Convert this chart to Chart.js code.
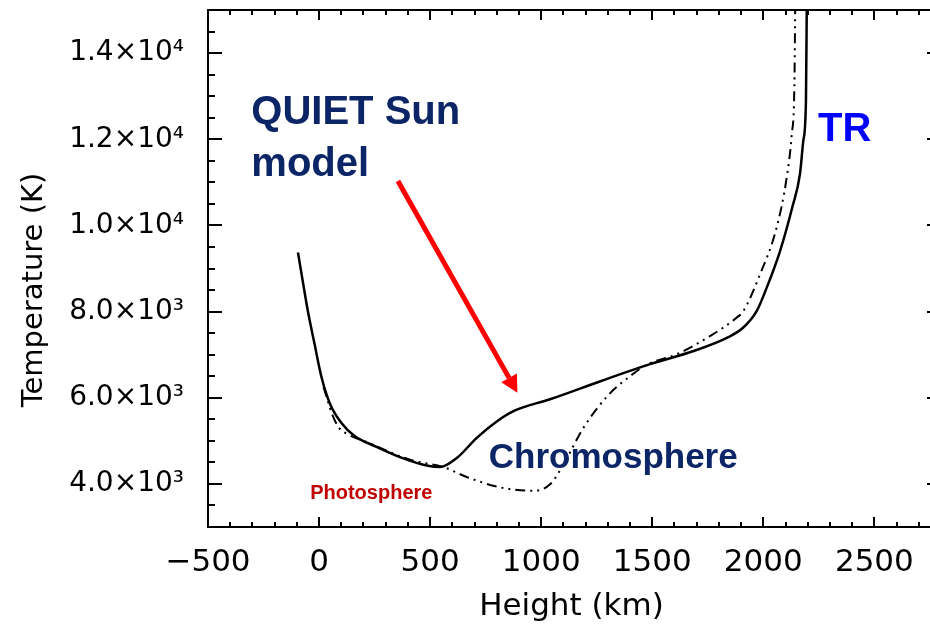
<!DOCTYPE html>
<html>
<head>
<meta charset="utf-8">
<title>Quiet Sun temperature model</title>
<script src="https://cdn.jsdelivr.net/npm/chart.js@4/dist/chart.umd.min.js"></script>
<style>
  html, body { margin: 0; padding: 0; background: #fff; width: 930px; height: 624px; overflow: hidden; }
  canvas { display: block; }
</style>
</head>
<body>
<canvas id="tempChart" width="945" height="624"></canvas>
<script>
// solid curve: quiet Sun model
const solidHeights = [-95, -70, -50, -20, 10, 50, 100, 160, 250, 370, 490, 545, 620, 710, 800, 880, 1040, 1270, 1490, 1690, 1840, 1910, 1970, 2015, 2075, 2130, 2165, 2180, 2192, 2196];
const solidTemps   = [9370, 8600, 8000, 7240, 6500, 5850, 5420, 5110, 4880, 4610, 4420, 4390, 4600, 5070, 5450, 5700, 5965, 6390, 6780, 7090, 7400, 7630, 8010, 8550, 9400, 10410, 11190, 11960, 12890, 15300];

// dash-dot-dot curve: comparison model
const dashHeights = [20, 60, 90, 130, 220, 410, 560, 670, 820, 965, 1040, 1100, 1190, 1300, 1400, 1480, 1610, 1760, 1880, 1910, 1985, 2060, 2105, 2128, 2140, 2144];
const dashTemps   = [6250, 5600, 5300, 5150, 4960, 4560, 4390, 4150, 3915, 3840, 3990, 4450, 5300, 6050, 6500, 6780, 7010, 7430, 7860, 8010, 8860, 9950, 11100, 12110, 13270, 15300];

const xTicks = [-500, 0, 500, 1000, 1500, 2000, 2500];
const yTicks = [4000, 6000, 8000, 10000, 12000, 14000];

// text labels placed in data units (left edge, baseline)
const labelTexts  = ['QUIET Sun', 'model', 'TR', 'Chromosphere', 'Photosphere'];
const labelX      = [-305, -305, 2246, 764, -40];
const labelY      = [12352, 11146, 11958, 4371, 3652];
const labelColors = ['#0b2566', '#0b2566', '#0000ff', '#0b2566', '#c00000'];
const labelSizes  = [40, 40, 40, 35, 20];

// arrow pointing at the chromospheric rise (data units)
const arrowFrom = [355, 11030];
const arrowTo = [893, 6118];

const FONT = '"DejaVu Sans", sans-serif';
const SUP = { 3: '\u00B3', 4: '\u2074' };

function fmtX(v) { return v < 0 ? '\u2212' + Math.abs(v) : String(v); }
function fmtY(v) {
    const e = Math.floor(Math.log10(v));
    return (v / Math.pow(10, e)).toFixed(1) + '\u00D710' + SUP[e];
}

// fixed box sizes, no extra room reserved for edge labels
function fixBox(s, w, h) {
    if (w !== null) s.width = w;
    if (h !== null) s.height = h;
    s.paddingTop = 0; s.paddingBottom = 0; s.paddingLeft = 0; s.paddingRight = 0;
}

// box frame with inward major/minor ticks on all four sides
const frameTicks = {
    id: 'frameTicks',
    afterDatasetsDraw(chart) {
        const { ctx, chartArea: a, scales: { x, y } } = chart;
        ctx.save();
        ctx.strokeStyle = '#000';
        ctx.lineWidth = 2;
        ctx.strokeRect(a.left, a.top, a.right - a.left, a.bottom - a.top);
        ctx.beginPath();
        for (let v = x.min; v <= x.max; v += 100) {
            const px = Math.round(x.getPixelForValue(v));
            const len = v % 500 === 0 ? 10 : 5;
            ctx.moveTo(px, a.bottom); ctx.lineTo(px, a.bottom - len);
            ctx.moveTo(px, a.top); ctx.lineTo(px, a.top + len);
        }
        for (let v = y.min; v <= y.max; v += 500) {
            const py = Math.round(y.getPixelForValue(v));
            const len = v % 2000 === 0 ? 14 : 7;
            ctx.moveTo(a.left, py); ctx.lineTo(a.left + len, py);
            ctx.moveTo(a.right, py); ctx.lineTo(a.right - len, py);
        }
        ctx.stroke();

        // axis titles
        ctx.fillStyle = '#000';
        ctx.font = '31px ' + FONT;
        ctx.textAlign = 'center';
        ctx.textBaseline = 'alphabetic';
        ctx.fillText('Height (km)', (a.left + a.right) / 2 - 3, 615);
        ctx.translate(42, 290);
        ctx.rotate(-Math.PI / 2);
        ctx.font = '29px ' + FONT;
        ctx.fillText('Temperature (K)', 0, 0);
        ctx.restore();
    }
};

// annotation text and arrow
const annotations = {
    id: 'annotations',
    afterDraw(chart) {
        const { ctx, scales: { x, y } } = chart;
        ctx.save();
        ctx.textAlign = 'left';
        ctx.textBaseline = 'alphabetic';
        labelTexts.forEach((t, i) => {
            ctx.font = 'bold ' + labelSizes[i] + 'px "Liberation Sans", Arial, sans-serif';
            ctx.fillStyle = labelColors[i];
            ctx.fillText(t, x.getPixelForValue(labelX[i]), y.getPixelForValue(labelY[i]));
        });

        const x0 = x.getPixelForValue(arrowFrom[0]), y0 = y.getPixelForValue(arrowFrom[1]);
        const x1 = x.getPixelForValue(arrowTo[0]), y1 = y.getPixelForValue(arrowTo[1]);
        const ang = Math.atan2(y1 - y0, x1 - x0);
        const head = 17, half = 9;
        const bx = x1 - head * Math.cos(ang), by = y1 - head * Math.sin(ang);
        ctx.strokeStyle = '#ff0000';
        ctx.fillStyle = '#ff0000';
        ctx.lineWidth = 5;
        ctx.beginPath();
        ctx.moveTo(x0, y0);
        ctx.lineTo(bx, by);
        ctx.stroke();
        ctx.beginPath();
        ctx.moveTo(x1, y1);
        ctx.lineTo(bx + half * Math.sin(ang), by - half * Math.cos(ang));
        ctx.lineTo(bx - half * Math.sin(ang), by + half * Math.cos(ang));
        ctx.closePath();
        ctx.fill();
        ctx.restore();
    }
};

const ctx = document.getElementById('tempChart').getContext('2d');
new Chart(ctx, {
    type: 'line',
    data: {
        datasets: [{
            label: 'Quiet Sun',
            data: solidHeights.map((h, i) => ({ x: h, y: solidTemps[i] })),
            borderColor: '#000',
            borderWidth: 2.5,
            cubicInterpolationMode: 'monotone',
            pointRadius: 0,
            fill: false
        }, {
            label: 'Reference model',
            data: dashHeights.map((h, i) => ({ x: h, y: dashTemps[i] })),
            borderColor: '#000',
            borderWidth: 2,
            borderDash: [10, 5, 2, 5, 2, 5],
            cubicInterpolationMode: 'monotone',
            pointRadius: 0,
            fill: false
        }]
    },
    options: {
        responsive: false,
        animation: false,
        layout: { padding: { top: 10, right: 4, left: 0, bottom: 0 } },
        plugins: { legend: { display: false }, tooltip: { enabled: false } },
        scales: {
            x: {
                type: 'linear', min: -500, max: 2800,
                grid: { display: false, drawTicks: false },
                border: { display: false },
                afterBuildTicks: s => { s.ticks = xTicks.map(v => ({ value: v })); },
                afterFit: s => fixBox(s, null, 97),
                ticks: { color: '#000', font: { family: FONT, size: 31 }, padding: 17, maxRotation: 0, autoSkip: false, callback: fmtX }
            },
            y: {
                type: 'linear', min: 3000, max: 15000,
                grid: { display: false, drawTicks: false },
                border: { display: false },
                afterBuildTicks: s => { s.ticks = yTicks.map(v => ({ value: v })); },
                afterFit: s => fixBox(s, 208, null),
                ticks: { color: '#000', font: { family: FONT, size: 28 }, padding: 24, autoSkip: false, callback: fmtY }
            }
        }
    },
    plugins: [frameTicks, annotations]
});
</script>
</body>
</html>
